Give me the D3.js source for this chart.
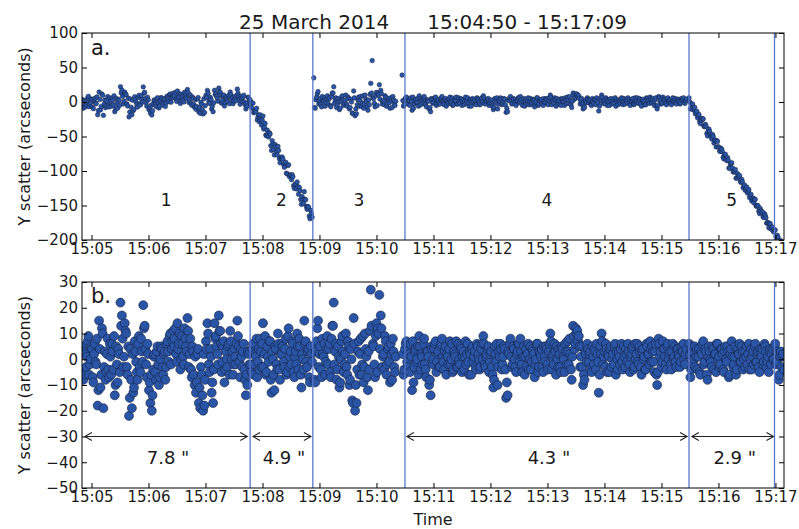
<!DOCTYPE html>
<html>
<head>
<meta charset="utf-8">
<script src="https://cdn.jsdelivr.net/npm/d3@7"></script>
<style>
  body { margin: 0; background: #fff; }
  text { font-family: "DejaVu Sans", sans-serif; }
</style>
</head>
<body>
<script>
// pointing samples every 0.75 s: each segment is stored as two passes,
// the second one offset by half the cadence
var cadence = 1.5;
var segStart = ["15:04:50", "15:07:47", "15:08:54", "15:10:27", "15:15:29"];

// detrended Y scatter (panel b), arcseconds
var seg1 = [5,-8,2,-3,7,-6,0,4,-9,6,
  -2,-18,15,-11,12,-19,3,-5,8,-7,
  1,6,-4,-14,5,-9,2,22,17,-3,
  14,10,-6,-22,4,-19,-13,7,-1,-8,
  9,-5,3,21,13,-2,6,-12,-17,-20,
  -4,2,-8,5,-10,0,4,-6,3,-3,
  7,-1,10,4,11,8,2,14,6,-4,
  9,1,12,5,16,-3,8,-7,3,-10,
  -13,2,-17,-19,-6,-20,-18,7,14,-2,
  4,-13,-17,14,9,2,17,11,-5,5,
  -9,3,-3,6,11,0,-6,4,-2,15,
  5,-7,1,3,-4,-14,-10,2];
var seg1Half = [-4,3,-6,1,9,-2,5,-7,2,-1,
  8,-12,4,-6,10,-3,-8,2,-4,6,
  -6,3,9,-10,-2,4,-5,13,8,1,
  11,-3,5,-15,-8,2,-11,3,-5,6,
  -3,8,-1,12,4,-7,2,-9,-6,-14,
  1,-5,3,-2,-7,5,-3,2,-8,6,
  3,9,-2,7,5,12,-1,4,10,0,
  6,-2,8,3,11,2,-4,5,-6,1,
  -9,4,-11,-3,-14,2,-8,4,10,-5,
  1,-9,-4,8,5,-2,11,6,-1,7,
  -4,0,5,-6,7,3,-2,1,6,9,
  -1,4,-3,6,-8,-6,3,-2];
var seg2 = [3,-5,6,-2,1,-7,4,8,-3,14,
  2,-6,5,-1,7,-13,0,-12,4,-4,
  6,-8,2,5,-3,8,-5,12,1,-2,
  6,-7,3,10,-4,5,-11,0,15,7,
  -3,4,-9,2];
var seg2Half = [-2,4,-6,2,8,-1,-4,3,6,-3,
  9,-5,1,7,-8,3,-6,5,-2,10,
  -4,2,6,-1,4,-6,9,-3,3,7,
  -5,1,-2,5,8,-6,2,-4,6,-1,
  3,-7,5,-1];
var seg3 = [35,-9,7,15,2,-4,8,1,-6,4,
  -2,6,-7,13,22,3,-8,5,-11,0,
  9,-5,2,-3,7,-10,4,-16,16,-20,
  -17,3,-6,8,-2,-9,10,1,-12,-4,
  27,60,5,-7,14,12,25,17,-3,2,
  9,-6,4,-1,6,-8,3,-5];
var seg3Half = [-8,3,12,-3,5,-7,2,6,-1,9,
  4,-5,8,13,-2,6,-4,1,-9,7,
  3,-2,10,-6,5,-8,0,-17,6,-10,
  -4,7,2,-6,9,-3,4,-7,3,11,
  13,6,-2,9,-5,10,4,12,1,-4,
  7,-2,5,-9,2,8,-3,1];
var seg4 = [39,-6,4,7,-3,2,6,-12,-9,3,-1,5,9,-4,1,6,-2,-7,3,-10,
  -14,4,0,6,-5,2,-3,5,8,-1,3,-6,1,4,-2,6,-4,2,7,-3,
  0,5,-5,3,1,-2,6,-6,2,4,-1,3,-4,5,0,-3,6,9,-2,1,
  4,-5,2,-3,-11,5,-1,-10,3,6,-4,1,4,-15,-14,2,8,-3,5,0,
  -5,3,6,8,-2,1,-6,4,2,-4,5,-1,3,-7,0,6,-3,2,4,-5,
  1,5,-2,3,10,-4,2,6,-6,0,4,-3,5,1,-5,3,7,-2,2,-8,
  13,4,12,11,9,-3,5,-10,-8,2,6,-1,3,-5,1,4,-4,2,-13,5,
  10,-2,3,6,-5,1,4,-3,2,5,-6,0,3,-2,6,-4,1,4,-1,3,
  -5,2,5,-3,0,6,-2,3,-6,4,1,-4,5,2,7,-1,3,-5,6,-10,
  8,1,-3,7,4,-2,5,0,3,-4,6,1,-1,4,2,-3,5,3,0,2];
var seg4Half = [2,-4,6,-1,3,-5,1,7,-3,4,0,-6,5,2,-2,8,-4,3,1,-8,
  5,-2,4,7,-1,3,-3,6,1,-4,5,2,-2,7,0,-5,3,1,-3,6,
  -2,4,1,-4,7,2,-1,3,-6,5,1,-3,6,2,-4,4,0,6,-3,2,
  5,-1,3,-6,-8,2,6,-3,1,4,-2,5,-4,-9,3,6,1,-2,4,-3,
  2,6,-1,3,-5,5,1,-3,6,0,-4,4,2,-2,6,-5,3,1,-3,5,
  -1,4,-4,6,7,1,-2,3,5,-3,2,-5,4,0,6,-2,3,8,-4,1,
  9,6,10,7,5,1,-3,-6,3,-1,4,2,-4,5,-2,3,6,-1,-6,2,
  7,1,-3,4,2,-5,5,0,-2,6,3,-4,1,4,-1,5,-3,2,6,-2,
  1,4,-4,6,2,-1,5,-3,3,0,-4,6,2,-2,4,5,-1,3,-6,-5,
  6,3,-1,4,1,-4,6,2,-2,3,0,5,-3,4,1,-1,3,6,-2,4];
var seg5 = [6,-7,3,-2,5,1,-4,4,-6,2,7,-1,3,-8,5,0,-3,4,2,-5,
  6,1,-2,4,-4,3,0,5,-7,2,7,-3,1,-6,4,2,-1,5,-4,3,
  1,-2,6,0,-4,3,5,-1,2,-3,4,1,-2,6,3,-1,-5,4,2,0,
  5,-2,3,-8,1,-3,2];
var seg5Half = [2,-4,5,0,-3,4,1,-5,3,6,-2,4,-6,1,3,-1,5,-4,2,6,
  0,-3,4,2,-5,5,-1,3,-6,4,1,-2,5,-4,2,6,-1,3,0,-3,
  5,2,-4,4,1,-2,6,-1,3,-5,2,4,-1,5,-3,1,3,-2,4,0,
  6,-1,2,-6,3,1,-4];
var segments = [seg1, seg2, seg3, seg4, seg5];
var segmentsHalf = [seg1Half, seg2Half, seg3Half, seg4Half, seg5Half];

// drift of each segment in panel a, value at its first and last sample
var trendFrom = [-1, 0, 0, 0, 0];
var trendTo = [4, -164, 0, 0, -209];

var boundaries = ["15:07:47", "15:08:53", "15:10:30", "15:15:29", "15:16:59"];
var segLabels = ["1", "2", "3", "4", "5"];
var arrowFrom = ["15:04:53", "15:07:50", "15:10:32", "15:15:32"];
var arrowTo = ["15:07:44", "15:08:51", "15:15:27", "15:16:58"];
var arrowLabels = ['7.8 "', '4.9 "', '4.3 "', '2.9 "'];
var yTicksA = [100, 50, 0, -50, -100, -150, -200];
var yTicksB = [30, 20, 10, 0, -10, -20, -30, -40, -50];
var timeRange = ["15:04:50", "15:17:09"];

var parseTime = function(s) { return d3.utcParse("%Y-%m-%d %H:%M:%S")("2014-03-25 " + s); };

var points = [];
segments.forEach(function(vals, k) {
  var t0 = parseTime(segStart[k]);
  var span = (vals.length - 1) * cadence;
  [vals, segmentsHalf[k]].forEach(function(pass, p) {
    pass.forEach(function(v, i) {
      var dt = i * cadence + p * cadence / 2;
      points.push({
        time: new Date(t0.getTime() + dt * 1000),
        b: v,
        a: v + trendFrom[k] + (trendTo[k] - trendFrom[k]) * dt / span
      });
    });
  });
});
points.sort(function(p, q) { return p.time - q.time; });

var W = 799, H = 529;
var left = 82, right = 784;
var panelA = {top: 33, bottom: 240}, panelB = {top: 282, bottom: 488};

var svg = d3.select("body").append("svg")
  .attr("width", W).attr("height", H);

var x = d3.scaleUtc()
  .domain(timeRange.map(parseTime))
  .range([left, right]);
var minutes = d3.utcMinute.range(parseTime("15:05:00"), parseTime("15:17:30"));

var boxColor = "#000", vlineColor = "#5a78cc";
var dotFill = "#2a54a6", dotStroke = "#14213f";

function drawPanel(p, key, yDomain, yTicks, r, id) {
  var y = d3.scaleLinear().domain(yDomain).range([p.bottom, p.top]);

  svg.append("clipPath").attr("id", id)
    .append("rect")
      .attr("x", left).attr("y", p.top)
      .attr("width", right - left).attr("height", p.bottom - p.top);

  var g = svg.append("g").attr("clip-path", "url(#" + id + ")");

  g.selectAll("circle")
    .data(points)
    .enter()
    .append("circle")
      .attr("cx", function(d) { return x(d.time); })
      .attr("cy", function(d) { return y(d[key]); })
      .attr("r", r)
      .attr("fill", dotFill)
      .attr("stroke", dotStroke)
      .attr("stroke-width", r > 3 ? 0.6 : 0.5);

  g.selectAll("line.bound")
    .data(boundaries)
    .enter()
    .append("line")
      .attr("class", "bound")
      .attr("x1", function(d) { return x(parseTime(d)); })
      .attr("x2", function(d) { return x(parseTime(d)); })
      .attr("y1", p.top).attr("y2", p.bottom)
      .attr("stroke", vlineColor)
      .attr("stroke-width", 1.3);

  // axes, ticks pointing inward on all four sides
  var xb = svg.append("g")
    .attr("transform", "translate(0," + p.bottom + ")")
    .call(d3.axisBottom(x).tickValues(minutes).tickFormat(d3.utcFormat("%H:%M"))
      .tickSizeInner(-5).tickSizeOuter(0).tickPadding(3));
  var xt = svg.append("g")
    .attr("transform", "translate(0," + p.top + ")")
    .call(d3.axisTop(x).tickValues(minutes).tickFormat("")
      .tickSizeInner(-5).tickSizeOuter(0));
  var yl = svg.append("g")
    .attr("transform", "translate(" + left + ",0)")
    .call(d3.axisLeft(y).tickValues(yTicks).tickFormat(d3.format("d"))
      .tickSizeInner(-5).tickSizeOuter(0).tickPadding(4));
  var yr = svg.append("g")
    .attr("transform", "translate(" + right + ",0)")
    .call(d3.axisRight(y).tickValues(yTicks).tickFormat("")
      .tickSizeInner(-5).tickSizeOuter(0));

  [xb, xt, yl, yr].forEach(function(a) {
    a.select(".domain").remove();
    a.attr("font-family", "DejaVu Sans, sans-serif").attr("font-size", 15);
    a.selectAll(".tick line").attr("stroke", "#000");
    a.selectAll(".tick text").attr("fill", "#1a1a1a");
  });

  svg.append("rect")
    .attr("x", left).attr("y", p.top)
    .attr("width", right - left).attr("height", p.bottom - p.top)
    .attr("fill", "none")
    .attr("stroke", boxColor)
    .attr("stroke-width", 1);

  svg.append("text")
    .attr("transform", "translate(24," + ((p.top + p.bottom) / 2) + ") rotate(-90)")
    .attr("text-anchor", "middle")
    .attr("dominant-baseline", "central")
    .attr("font-size", 16)
    .attr("fill", "#1a1a1a")
    .text("Y scatter (arcseconds)");

  return y;
}

var yA = drawPanel(panelA, "a", [-200, 100], yTicksA, 2.3, "clipA");
var yB = drawPanel(panelB, "b", [-50, 30], yTicksB, 4.5, "clipB");

// panel letters
svg.append("text").attr("x", 91).attr("y", 55)
  .attr("font-size", 21).attr("fill", "#1a1a1a").text("a.");
svg.append("text").attr("x", 91).attr("y", 303)
  .attr("font-size", 21).attr("fill", "#1a1a1a").text("b.");

// segment numbers in panel a
var spanEdges = [timeRange[0]].concat(boundaries);
svg.selectAll("text.seg")
  .data(segLabels)
  .enter()
  .append("text")
    .attr("class", "seg")
    .attr("x", function(d, i) {
      return (x(parseTime(spanEdges[i])) + x(parseTime(spanEdges[i + 1]))) / 2;
    })
    .attr("y", yA(-142))
    .attr("text-anchor", "middle")
    .attr("dominant-baseline", "central")
    .attr("font-size", 17)
    .attr("fill", "#1a1a1a")
    .text(function(d) { return d; });

// double-headed arrows and rms labels in panel b
var ay = yB(-30);
svg.selectAll("path.arrow")
  .data(arrowFrom)
  .enter()
  .append("path")
    .attr("class", "arrow")
    .attr("d", function(d, i) {
      var x1 = x(parseTime(d)), x2 = x(parseTime(arrowTo[i]));
      return "M" + x1 + "," + ay + "L" + x2 + "," + ay +
        "M" + (x1 + 7) + "," + (ay - 4) + "L" + x1 + "," + ay + "L" + (x1 + 7) + "," + (ay + 4) +
        "M" + (x2 - 7) + "," + (ay - 4) + "L" + x2 + "," + ay + "L" + (x2 - 7) + "," + (ay + 4);
    })
    .attr("fill", "none")
    .attr("stroke", "#222")
    .attr("stroke-width", 1.1);

svg.selectAll("text.rms")
  .data(arrowLabels)
  .enter()
  .append("text")
    .attr("class", "rms")
    .attr("x", function(d, i) {
      return (x(parseTime(arrowFrom[i])) + x(parseTime(arrowTo[i]))) / 2 + 2;
    })
    .attr("y", yB(-38))
    .attr("text-anchor", "middle")
    .attr("dominant-baseline", "central")
    .attr("font-size", 18)
    .attr("fill", "#1a1a1a")
    .text(function(d) { return d; });

// title and x label
svg.append("text")
  .attr("x", (left + right) / 2).attr("y", 29)
  .attr("text-anchor", "middle")
  .attr("font-size", 20)
  .attr("fill", "#1a1a1a")
  .style("white-space", "pre")
  .text("25 March 2014      15:04:50 - 15:17:09");

svg.append("text")
  .attr("x", (left + right) / 2).attr("y", 525)
  .attr("text-anchor", "middle")
  .attr("font-size", 16)
  .attr("fill", "#1a1a1a")
  .text("Time");
</script>
</body>
</html>
